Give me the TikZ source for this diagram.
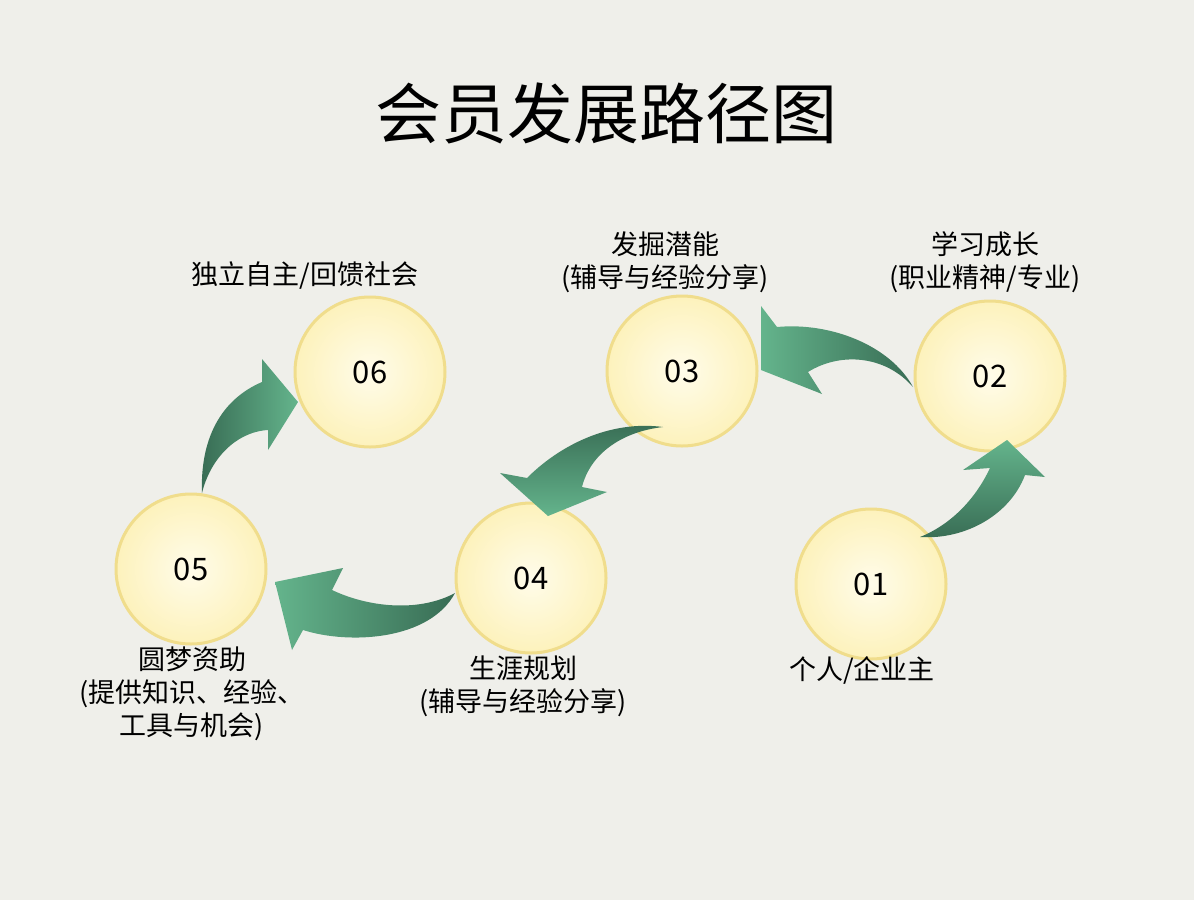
\documentclass[tikz,border=0pt]{standalone}
\usepackage{fontspec}
\setmainfont{Noto Sans CJK SC}
\definecolor{bg}{RGB}{239,239,234}
\definecolor{ringc}{RGB}{240,221,140}
\definecolor{innerc}{RGB}{255,252,234}
\definecolor{outerc}{RGB}{253,242,188}
\definecolor{gdark}{RGB}{56,108,84}
\definecolor{glight}{RGB}{100,180,140}
\tikzset{
  stagecirc/.style={circle, minimum size=150pt, inner sep=0pt, draw=ringc, line width=3pt,
    inner color=innerc, outer color=outerc, font=\fontsize{31}{33}\selectfont},
  lbl/.style={align=center, font=\fontsize{27}{33}\selectfont, inner sep=0pt},
  titlestyle/.style={font=\fontsize{66}{70}\selectfont, inner sep=0pt}
}
\begin{document}
\begin{tikzpicture}[x=1pt,y=-1pt]
\fill[bg] (0,0) rectangle (1194,900);
\useasboundingbox (0,0) rectangle (1194,900);

\node[titlestyle] (title) at (606,113) {会员发展路径图};

\node[stagecirc] (c1) at (871,584) {01};
\node[stagecirc] (c2) at (990,376) {02};
\node[stagecirc] (c3) at (682,371) {03};
\node[stagecirc] (c4) at (531,578) {04};
\node[stagecirc] (c5) at (191,569) {05};
\node[stagecirc] (c6) at (370,372) {06};

\node[lbl] (l1) at (862,670) {个人/企业主};
\node[lbl] (l2) at (985,262) {学习成长\\(职业精神/专业)};
\node[lbl] (l3) at (665,262) {发掘潜能\\(辅导与经验分享)};
\node[lbl] (l4) at (523,686) {生涯规划\\(辅导与经验分享)};
\node[lbl] (l5) at (192,694) {圆梦资助\\(提供知识、经验、\\工具与机会)};
\node[lbl] (l6) at (305,275) {独立自主/回馈社会};

% arrow 01 -> 02
\shade[bottom color=gdark, top color=glight]
  (920,537) .. controls (965,540) and (1010,515) .. (1025,475)
  -- (1045,477) -- (1007,440) -- (963,470) -- (990,468)
  .. controls (975,500) and (950,525) .. (920,537) -- cycle;
% arrow 02 -> 03
\shade[left color=glight, right color=gdark]
  (913,387) .. controls (890,345) and (830,322) .. (777,327)
  -- (761,306) -- (761,370) -- (822,394) -- (808,372)
  .. controls (840,352) and (885,355) .. (913,387) -- cycle;
% arrow 03 -> 04
\shade[top color=gdark, bottom color=glight]
  (663,427) .. controls (610,420) and (560,445) .. (527,478)
  -- (500,473) -- (548,516) -- (607,492) -- (582,487)
  .. controls (590,455) and (620,432) .. (663,427) -- cycle;
% arrow 04 -> 05
\shade[left color=glight, right color=gdark]
  (455,593) .. controls (420,612) and (370,608) .. (332,590)
  -- (343,568) -- (275,582) -- (292,650) -- (303,630)
  .. controls (350,645) and (430,640) .. (455,593) -- cycle;
% arrow 05 -> 06
\shade[left color=gdark, right color=glight]
  (202,493) .. controls (200,440) and (220,400) .. (262,382)
  -- (262,359) -- (298,402) -- (268,450) -- (268,430)
  .. controls (235,432) and (210,460) .. (202,493) -- cycle;
\end{tikzpicture}
\end{document}
